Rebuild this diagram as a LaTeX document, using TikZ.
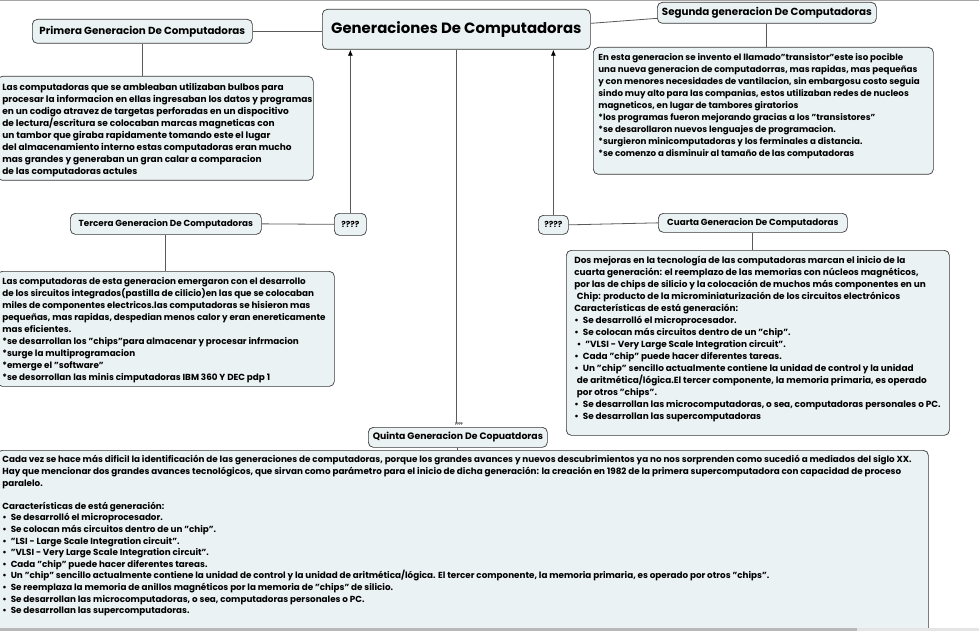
\documentclass[tikz,border=0pt]{standalone}
\usepackage{fontspec}
\setmainfont{Poppins}
\usetikzlibrary{arrows.meta}
\definecolor{boxfill}{HTML}{EBF2F4}
\definecolor{edgec}{HTML}{3A3A3A}
\definecolor{connc}{HTML}{5A5A5A}
\newcommand{\bt}[3]{\parbox[t][#2pt][t]{#1pt}{\raggedright\rightskip=-15pt plus 1fil\strut #3}}
\newcommand{\bl}{\textbullet\hspace{4pt}}
\begin{document}
\begin{tikzpicture}[x=1pt,y=-1pt,
  titlebox/.style={draw=edgec, fill=boxfill, rounded corners=5pt, line width=0.7pt,
    inner sep=0pt, anchor=north west, font=\fontsize{10.3}{12}\selectfont\bfseries},
  smalltitle/.style={titlebox, font=\fontsize{8.8}{10}\selectfont\bfseries},
  textbox/.style={draw=edgec, fill=boxfill, rounded corners=5pt, line width=0.7pt,
    inner xsep=5pt, inner ysep=4.5pt, anchor=north west,
    font=\fontsize{9}{12}\selectfont\bfseries},
  link/.style={draw=connc, line width=0.8pt},
  arrowlink/.style={link, -{Latex[length=6pt,width=5pt,black]}}]
\useasboundingbox (0,0) rectangle (979,631);
\fill[white] (0,0) rectangle (979,631);
\draw[gray!70, line width=1.5pt] (0,0.75) -- (979,0.75);

% central
\node[titlebox, minimum width=268pt, minimum height=40pt,
  font=\fontsize{14.9}{16}\selectfont\bfseries] (cen) at (322,9) {Generaciones De Computadoras};

% titles
\node[titlebox, minimum width=220pt, minimum height=24pt] (t1) at (32,19) {Primera Generacion De Computadoras};
\node[titlebox, minimum width=219pt, minimum height=21pt] (t2) at (657,2) {Segunda generacion De Computadoras};
\node[smalltitle, minimum width=191pt, minimum height=21pt] (t3) at (70,213) {Tercera Generacion De Computadoras};
\node[smalltitle, minimum width=32pt, minimum height=22pt, font=\fontsize{8.4}{10}\selectfont\bfseries] (q3) at (334,213) {????};
\node[smalltitle, minimum width=30pt, minimum height=19pt, font=\fontsize{8.4}{10}\selectfont\bfseries] (q4) at (538,215) {????};
\node[smalltitle, minimum width=189pt, minimum height=19pt] (t4) at (658,213) {Cuarta Generacion De Computadoras};
\node[smalltitle, minimum width=179pt, minimum height=20pt, font=\fontsize{9.3}{10}\selectfont\bfseries] (t5) at (368,427) {Quinta Generacion De Copuatdoras};
\node[font=\fontsize{3.5}{4}\selectfont\bfseries, inner sep=0pt] (q5) at (459,424.5) {????};

% text boxes
\node[textbox, inner ysep=5.5pt] (b1) at (-3,76) {\bt{306}{93}{Las computadoras que se ambleaban utilizaban bulbos para\\
procesar la informacion en ellas ingresaban los datos y programas\\
en un codigo atravez de targetas perforadas en un dispocitivo\\
de lectura/escritura se colocaban marcas magneticas con\\
un tambor que giraba rapidamente tomando este el lugar\\
del almacenamiento interno estas computadoras eran mucho\\
mas grandes y generaban un gran calar a comparacion\\
de las computadoras actules}};

\node[textbox, font=\fontsize{8.7}{12}\selectfont\bfseries] (b2) at (593,47) {\bt{330}{118}{En esta generacion se invento el llamado"transistor"este iso pocible\\
una nueva generacion de computadorras, mas rapidas, mas pequeñas\\
y con menores necesidades de vantilacion, sin embargosu costo seguia\\
sindo muy alto para las companias, estos utilizaban redes de nucleos\\
magneticos, en lugar de tambores giratorios\\{}
*los programas fueron mejorando gracias a los "transistores"\\{}
*se desarollaron nuevos lenguajes de programacion.\\{}
*surgieron minicomputadoras y los ferminales a distancia.\\{}
*se comenzo a disminuir al tamaño de las computadoras}};

\node[textbox, font=\fontsize{8.8}{12}\selectfont\bfseries] (b3) at (-3,271) {\bt{327}{106}{Las computadoras de esta generacion emergaron con el desarrollo\\
de los sircuitos integrados(pastilla de cilicio)en las que se colocaban\\
miles de componentes electricos.las computadoras se hisieron mas\\
pequeñas, mas rapidas, despedian menos calor y eran enereticamente\\
mas eficientes.\\{}
*se desarrollan los "chips"para almacenar y procesar infrmacion\\{}
*surge la multiprogramacion\\{}
*emerge el "software"\\{}
*se desorrollan las minis cimputadoras IBM 360 Y DEC pdp 1}};

\node[textbox, inner xsep=8pt, font=\fontsize{8.9}{12}\selectfont\bfseries] (b4) at (566,250) {\bt{367}{176}{Dos mejoras en la tecnología de las computadoras marcan el inicio de la\\
cuarta generación: el reemplazo de las memorias con núcleos magnéticos,\\
por las de chips de silicio y la colocación de muchos más componentes en un\\
\hspace*{2.5pt}Chip: producto de la microminiaturización de los circuitos electrónicos\\
Características de está generación:\\
\bl Se desarrolló el microprocesador.\\
\bl Se colocan más circuitos dentro de un "chip".\\
\hspace*{2.5pt}\bl "VLSI - Very Large Scale Integration circuit".\\
\bl Cada "chip" puede hacer diferentes tareas.\\
\bl Un "chip" sencillo actualmente contiene la unidad de control y la unidad\\
\hspace*{2.5pt}de aritmética/lógica.El tercer componente, la memoria primaria, es operado\\
\hspace*{2.5pt}por otros "chips".\\
\bl Se desarrollan las microcomputadoras, o sea, computadoras personales o PC.\\
\bl Se desarrollan las supercomputadoras}};

\node[textbox, font=\fontsize{8.8}{11.6}\selectfont\bfseries] (b5) at (-3,450) {\bt{921}{181}{Cada vez se hace más dificil la identificación de las generaciones de computadoras, porque los grandes avances y nuevos descubrimientos ya no nos sorprenden como sucedió a mediados del siglo XX.\\
Hay que mencionar dos grandes avances tecnológicos, que sirvan como parámetro para el inicio de dicha generación: la creación en 1982 de la primera supercomputadora con capacidad de proceso\\
paralelo.\\[11.6pt]
Características de está generación:\\
\bl Se desarrolló el microprocesador.\\
\bl Se colocan más circuitos dentro de un "chip".\\
\bl "LSI - Large Scale Integration circuit".\\
\bl "VLSI - Very Large Scale Integration circuit".\\
\bl Cada "chip" puede hacer diferentes tareas.\\
\bl Un "chip" sencillo actualmente contiene la unidad de control y la unidad de aritmética/lógica. El tercer componente, la memoria primaria, es operado por otros "chips".\\
\bl Se reemplaza la memoria de anillos magnéticos por la memoria de "chips" de silicio.\\
\bl Se desarrollan las microcomputadoras, o sea, computadoras personales o PC.\\
\bl Se desarrollan las supercomputadoras.}};

% connectors
\draw[link] (t1.east) -- (cen.west |- t1.east);
\draw[link] ([yshift=6pt]cen.east) -- ([yshift=-5.5pt]t2.west);
\draw[link] (t1.south) -- (t1.south |- b1.north);
\draw[link] (t2.south) -- (t2.south |- b2.north);
\draw[link] (t3.east) -- (q3.west);
\draw[link] (t3.south) -- (t3.south |- b3.north);
\draw[arrowlink] (q3.north) -- (q3.north |- cen.south);
\draw[arrowlink] (q4.north) -- (q4.north |- cen.south);
\draw[link] (q4.east) -- (t4.west);
\draw[link] (t4.south) -- (t4.south |- b4.north);
\draw[link] (cen.south) -- (cen.south |- q5.north);
\draw[link] (t5.south) -- (t5.south |- b5.north);

% bottom frame
\fill[gray!55] (0,627.5) rectangle (857,631);
\fill[gray!20] (857,627.5) rectangle (979,631);
\end{tikzpicture}
\end{document}
